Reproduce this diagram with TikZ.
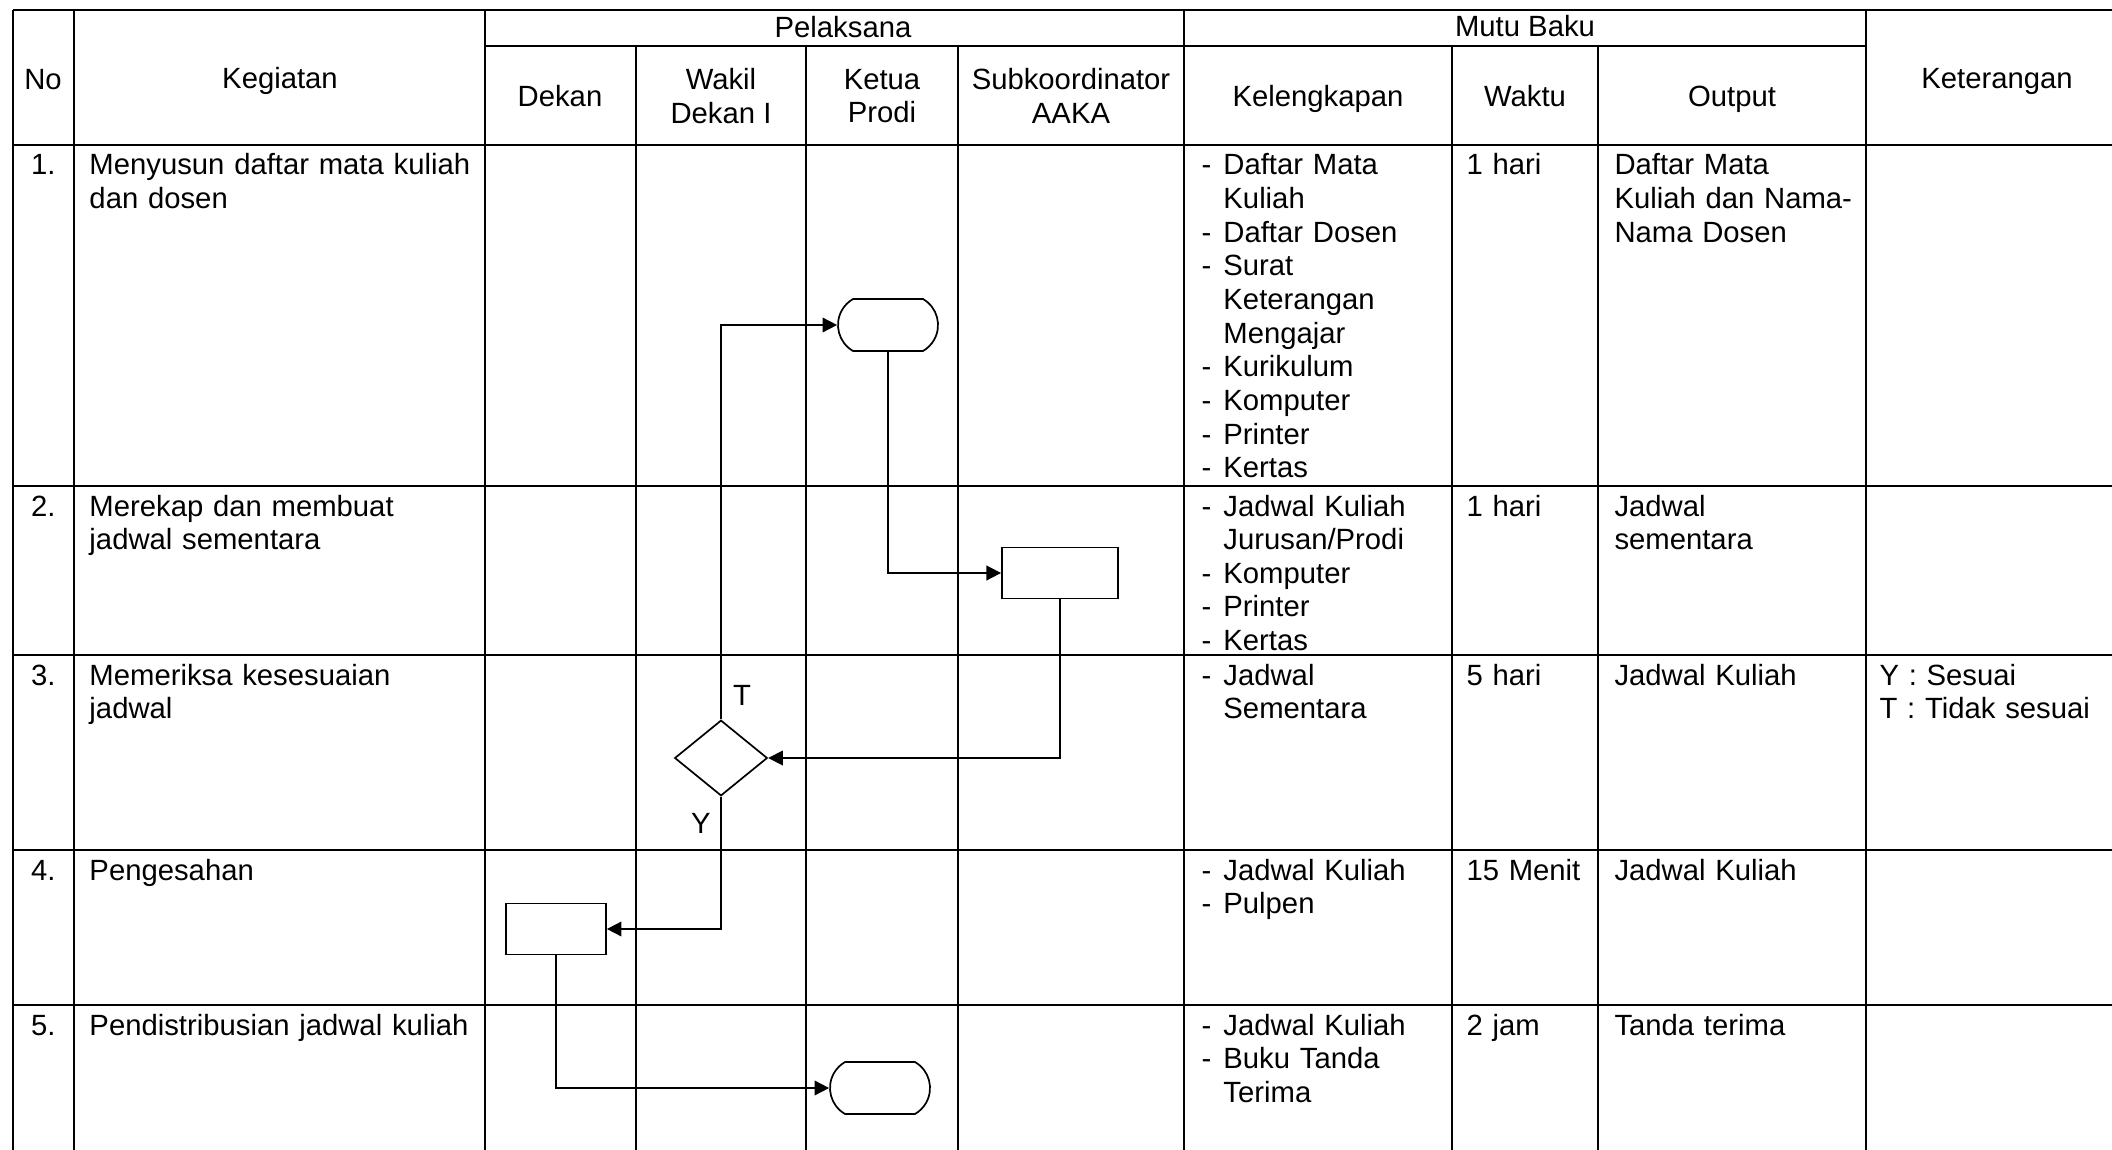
\documentclass[tikz,border=0pt]{standalone}
\usepackage{fontspec}
\setmainfont{Liberation Sans}
\usetikzlibrary{shapes.geometric, shapes.misc, arrows.meta}

\newcommand{\cellfont}{\fontsize{12pt}{13.8pt}\selectfont}
\newcommand{\itm}{\makebox[9pt][l]{-}}
\newcommand{\itmcont}{\hspace*{9pt}}

\begin{document}
\begin{tikzpicture}[
        x=0.41pt, y=-0.41pt,
        grid/.style={line width=1.2pt},
        head/.style={align=center, inner sep=0pt, font=\cellfont},
        cell/.style={anchor=base west, align=left, text width=200pt, inner sep=0pt, font=\cellfont},
        num/.style={anchor=base east, inner sep=0pt, font=\cellfont},
        term/.style={rounded rectangle, rounded rectangle arc length=120, draw, line width=0.7pt, minimum width=41pt, minimum height=21.3pt, inner sep=0pt},
        proc/.style={rectangle, draw, line width=0.7pt, minimum width=41pt, minimum height=21pt, inner sep=0pt},
        decision/.style={diamond, draw, line width=0.7pt, minimum width=38pt, minimum height=31pt, inner sep=0pt},
        arrow/.style={-{Triangle[length=6pt, width=6pt]}, line width=0.7pt}
    ]
        \clip (0,0) rectangle (2112,1150);

        % Table lines
        \draw[grid] (13,10) -- (2140,10);
        \draw[grid] (485,46) -- (1866,46);
        \foreach \y in {145, 486, 655, 850, 1005}
            \draw[grid] (13,\y) -- (2140,\y);
        \foreach \x in {13, 74, 485, 1184, 1866}
            \draw[grid] (\x,10) -- (\x,1160);
        \foreach \x in {636, 806, 958, 1452, 1598}
            \draw[grid] (\x,46) -- (\x,1160);

        % Header
        \node[head] at (43,80) {No};
        \node[head] at (280,81) {Kegiatan};
        \node[head] at (843,27) {Pelaksana};
        \node[head] at (1525,26) {Mutu Baku};
        \node[head] at (1997,81) {Keterangan};
        \node[head] at (560,96) {Dekan};
        \node[head] at (721,96) {Wakil\\Dekan I};
        \node[head] at (882,96) {Ketua\\Prodi};
        \node[head] at (1071,96) {Subkoordinator\\AAKA};
        \node[head] at (1318,99) {Kelengkapan};
        \node[head] at (1525,96) {Waktu};
        \node[head] at (1732,99) {Output};

        % Row 1
        \node[num] at (56,175) {1.};
        \node[cell] at (89,175) {Menyusun daftar mata kuliah\\dan dosen};
        \node[cell] at (1201,175) {\itm Daftar Mata\\\itmcont Kuliah\\\itm Daftar Dosen\\\itm Surat\\\itmcont Keterangan\\\itmcont Mengajar\\\itm Kurikulum\\\itm Komputer\\\itm Printer\\\itm Kertas};
        \node[cell] at (1466,175) {1 hari};
        \node[cell] at (1614,175) {Daftar Mata\\Kuliah dan Nama-\\Nama Dosen};

        % Row 2
        \node[num] at (56,516) {2.};
        \node[cell] at (89,516) {Merekap dan membuat\\jadwal sementara};
        \node[cell] at (1201,516) {\itm Jadwal Kuliah\\\itmcont Jurusan/Prodi\\\itm Komputer\\\itm Printer\\\itm Kertas};
        \node[cell] at (1466,516) {1 hari};
        \node[cell] at (1614,516) {Jadwal\\sementara};

        % Row 3
        \node[num] at (56,685) {3.};
        \node[cell] at (89,685) {Memeriksa kesesuaian\\jadwal};
        \node[cell] at (1201,685) {\itm Jadwal\\\itmcont Sementara};
        \node[cell] at (1466,685) {5 hari};
        \node[cell] at (1614,685) {Jadwal Kuliah};
        \node[cell] at (1879,685) {Y : Sesuai\\T : Tidak sesuai};

        % Row 4
        \node[num] at (56,880) {4.};
        \node[cell] at (89,880) {Pengesahan};
        \node[cell] at (1201,880) {\itm Jadwal Kuliah\\\itm Pulpen};
        \node[cell] at (1466,880) {15 Menit};
        \node[cell] at (1614,880) {Jadwal Kuliah};

        % Row 5
        \node[num] at (56,1035) {5.};
        \node[cell] at (89,1035) {Pendistribusian jadwal kuliah};
        \node[cell] at (1201,1035) {\itm Jadwal Kuliah\\\itm Buku Tanda\\\itmcont Terima};
        \node[cell] at (1466,1035) {2 jam};
        \node[cell] at (1614,1035) {Tanda terima};

        % Flow symbols
        \node[term] (mulai) at (888,325) {};
        \node[proc, minimum width=47.6pt] (rekap) at (1060,573) {};
        \node[decision] (periksa) at (721,758) {};
        \node[proc] (sah) at (556,929) {};
        \node[term] (selesai) at (880,1088) {};

        % Flow arrows
        \draw[arrow] (mulai.south) |- (rekap.west);
        \draw[arrow] (rekap.south) |- (periksa.east);
        \draw[arrow] (periksa.north) |- (mulai.west);
        \draw[arrow] (periksa.south) |- (sah.east);
        \draw[arrow] (sah.south) |- (selesai.west);

        % Decision labels
        \node[head] at (742,695) {T};
        \node[head] at (701,823) {Y};
    \end{tikzpicture}
\end{document}
